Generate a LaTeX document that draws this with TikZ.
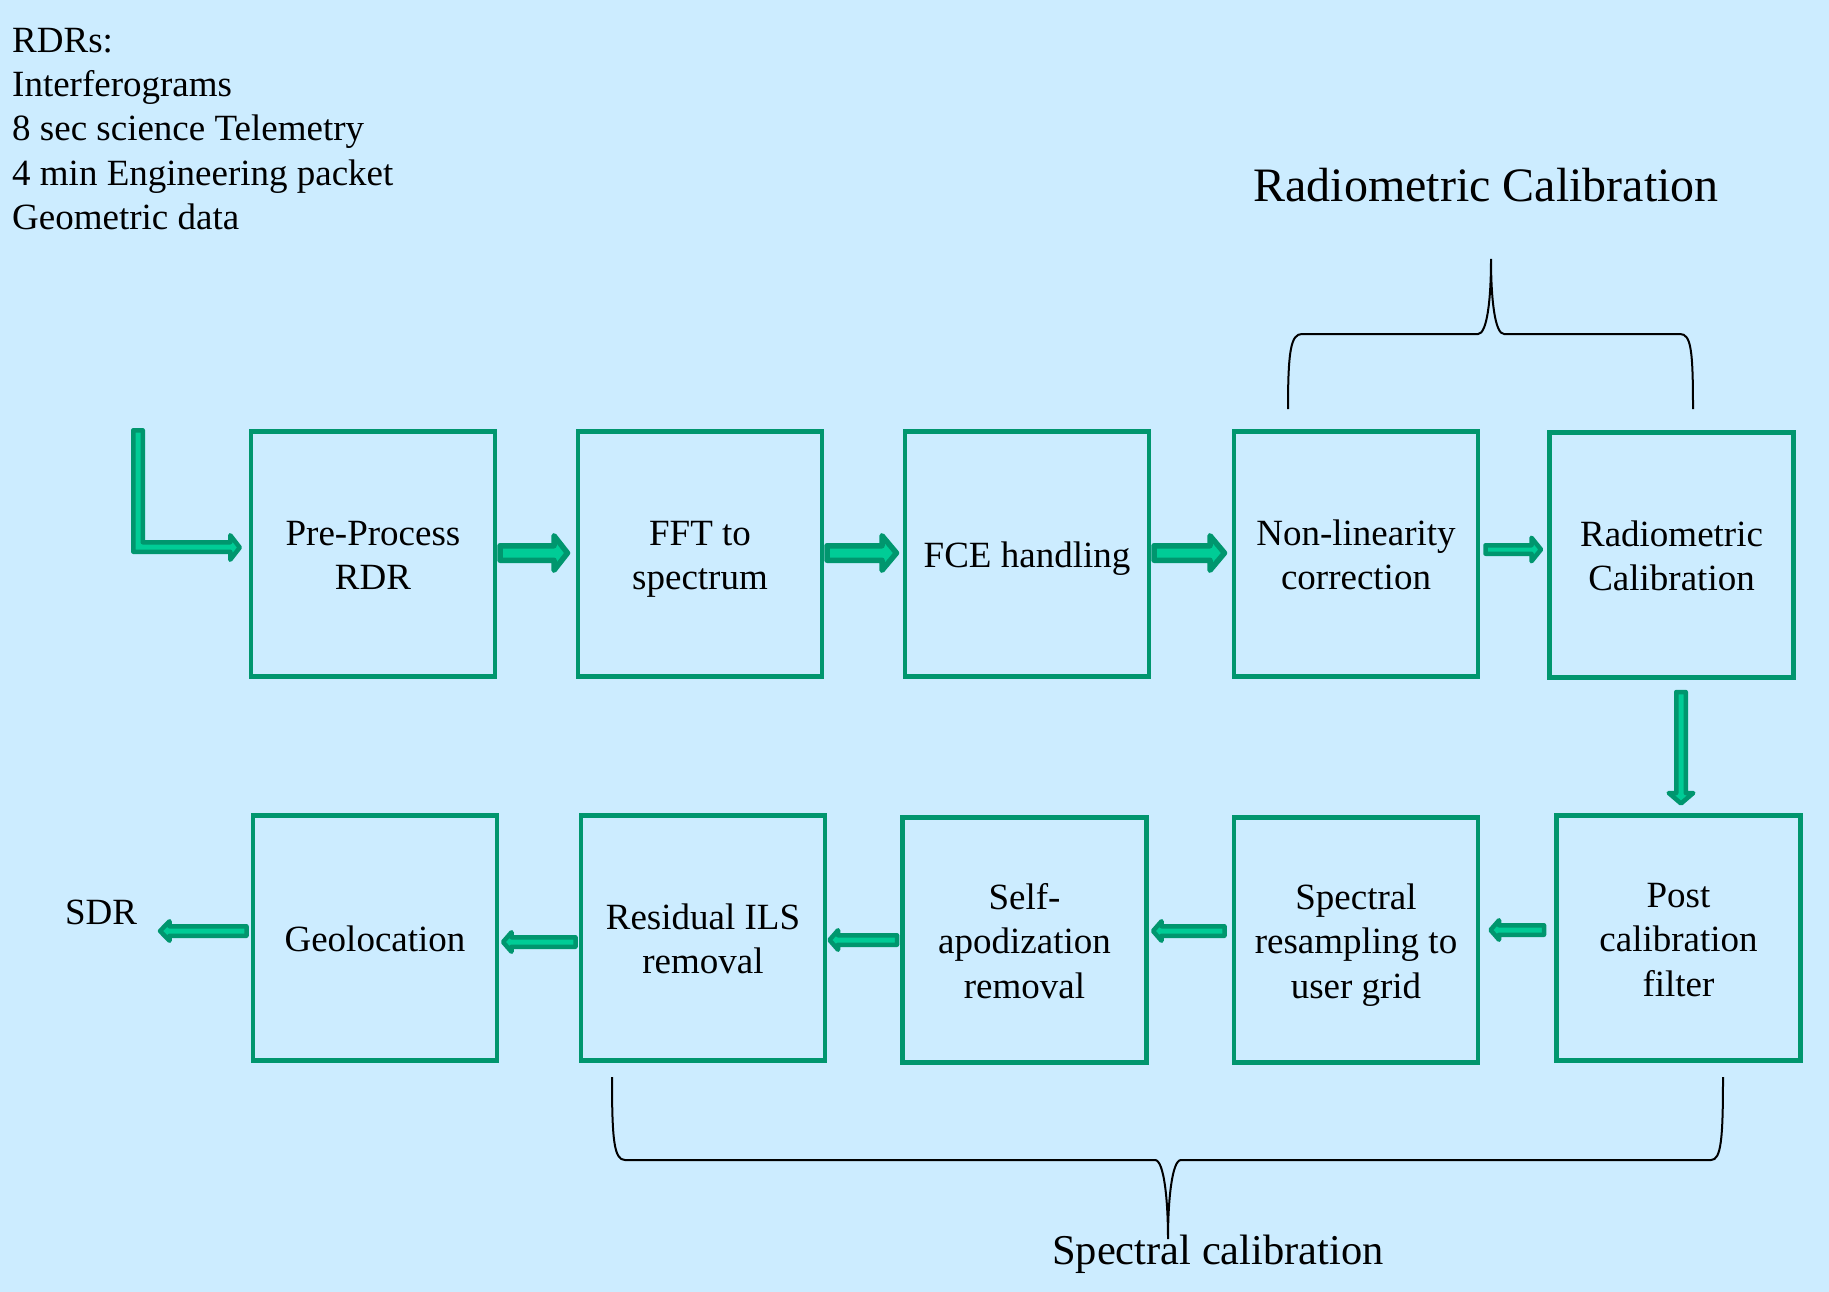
\documentclass[tikz,border=0pt]{standalone}
\usepackage{fontspec}
\setmainfont{Liberation Serif}
\usetikzlibrary{calc}
\definecolor{bgblue}{RGB}{204,236,255}
\definecolor{boxgreen}{RGB}{0,150,110}
\definecolor{arrlight}{RGB}{0,204,150}
\tikzset{
  procbox/.style={draw=boxgreen, line width=4.5pt, minimum width=244pt, minimum height=245pt,
    inner sep=0pt},
  boxtext/.style={inner sep=0pt, align=center, anchor=base, font=\fontsize{37}{44.5}\selectfont},
  lbl/.style={inner sep=0pt, font=\fontsize{37}{44.5}\selectfont},
  barrowstyle/.style={draw=boxgreen, fill=arrlight, line join=round},
  bracestyle/.style={draw=black, line width=2pt}
}
% #1 tail, #2 angle, #3 length, #4 shaft width, #5 head width, #6 head length, #7 line width
\newcommand\blockarr[7]{%
  \begin{scope}[shift={(#1)}, rotate=#2]
    \pgfmathsetmacro\bL{#3-#7/2}%
    \pgfmathsetmacro\bS{#4/2-#7/2}%
    \pgfmathsetmacro\bH{#5/2-#7/2}%
    \pgfmathsetmacro\bB{#3-#6+#7/2}%
    \pgfmathsetmacro\bT{#7/2}%
    \draw[barrowstyle, line width=#7pt] (\bT,-\bS) -- (\bB,-\bS) -- (\bB,-\bH) -- (\bL,0)
      -- (\bB,\bH) -- (\bB,\bS) -- (\bT,\bS) -- cycle;
  \end{scope}}
\begin{document}
\begin{tikzpicture}[x=1pt,y=-1pt]
\useasboundingbox (0,0) rectangle (1829,1292);
\fill[bgblue] (0,0) rectangle (1829,1292);

% input text
\node[lbl, anchor=base west, align=left] (rdrs) at (12,230)
  {RDRs:\\Interferograms\\8 sec science Telemetry\\4 min Engineering packet\\Geometric data};

% top row boxes
\node[procbox] (pre) at (373,554) {};
\node[procbox] (fft) at (700,554) {};
\node[procbox] (fce) at (1027,554) {};
\node[procbox] (nonlin) at (1356,554) {};
\node[procbox] (radcal) at (1671.5,555) {};
% bottom row boxes
\node[procbox] (post) at (1678.5,938) {};
\node[procbox] (resamp) at (1356,940) {};
\node[procbox] (selfap) at (1024.5,940) {};
\node[procbox] (resid) at (703,938) {};
\node[procbox] (geo) at (375,938) {};

% box texts (anchor = baseline of last line)
\node[boxtext] (preT) at ($(pre.center)+(0,35.75)$) {Pre-Process\\RDR};
\node[boxtext] (fftT) at ($(fft.center)+(0,35.75)$) {FFT to\\spectrum};
\node[boxtext] (fceT) at ($(fce.center)+(0,13.5)$) {FCE handling};
\node[boxtext] (nonlinT) at ($(nonlin.center)+(0,35.75)$) {Non-linearity\\correction};
\node[boxtext] (radcalT) at ($(radcal.center)+(0,35.75)$) {Radiometric\\Calibration};
\node[boxtext] (postT) at ($(post.center)+(0,58)$) {Post\\calibration\\filter};
\node[boxtext] (resampT) at ($(resamp.center)+(0,58)$) {Spectral\\resampling to\\user grid};
\node[boxtext] (selfapT) at ($(selfap.center)+(0,58)$) {Self-\\apodization\\removal};
\node[boxtext] (residT) at ($(resid.center)+(0,35.75)$) {Residual ILS\\removal};
\node[boxtext] (geoT) at ($(geo.center)+(0,13.5)$) {Geolocation};

\node[lbl] (sdr) at (101,912) {SDR};
\node[inner sep=0pt, anchor=base, font=\fontsize{48}{56}\selectfont] (radtitle) at (1486,202) {Radiometric Calibration};
\node[inner sep=0pt, anchor=base, font=\fontsize{42.5}{50}\selectfont] (spectitle) at (1218,1264) {Spectral calibration};

% L-shaped input arrow
\coordinate (rdrin) at (131,428);
\begin{scope}[shift={(rdrin)}]
  \draw[barrowstyle, line width=4.5pt] (2.25,2.25) -- (11.75,2.25) -- (11.75,114.25) -- (99.25,114.25)
    -- (99.25,107.25) -- (108.75,119.5) -- (99.25,131.75) -- (99.25,123.75) -- (2.25,123.75) -- cycle;
\end{scope}

% top row arrows
\blockarr{$(pre.east)+(0,-1)$}{0}{73}{20}{40}{19}{5.5}
\blockarr{$(fft.east)+(0,-1)$}{0}{75}{20}{40}{20}{5.5}
\blockarr{$(fce.east)+(0,-1)$}{0}{76}{20}{40}{20}{5.5}
\blockarr{$(nonlin.east)+(3,-4.5)$}{0}{60}{13}{28}{14}{4.5}
\blockarr{$(radcal.south)+(9.5,10)$}{-90}{116}{14}{29}{15}{4.5}
% bottom row arrows
\blockarr{$(post.west)+(-8,-8)$}{180}{58}{14}{24}{13}{4.5}
\blockarr{$(resamp.west)+(-5,-9)$}{180}{76}{14}{24}{13}{4.5}
\blockarr{$(selfap.west)+(-1,0)$}{180}{72}{14}{24}{13}{4.5}
\blockarr{$(resid.west)+(-1,4)$}{180}{77}{14}{24}{13}{4.5}
\blockarr{$(geo.west)+(-2,-7)$}{180}{91}{14}{24}{14}{4.5}

% braces
\draw[bracestyle] (1288,409) .. controls (1288,350) and (1291,334) .. (1302,334) -- (1478,334)
  .. controls (1487,334) and (1491,300) .. (1491,259)
  .. controls (1491,300) and (1495,334) .. (1504,334) -- (1680,334)
  .. controls (1691,334) and (1693,350) .. (1693,409);
\draw[bracestyle] (612,1077) .. controls (612,1140) and (614,1160) .. (625,1160) -- (1155,1160)
  .. controls (1164,1160) and (1168,1200) .. (1168,1239)
  .. controls (1168,1200) and (1172,1160) .. (1181,1160) -- (1711,1160)
  .. controls (1721,1160) and (1723,1140) .. (1723,1077);
\end{tikzpicture}
\end{document}
